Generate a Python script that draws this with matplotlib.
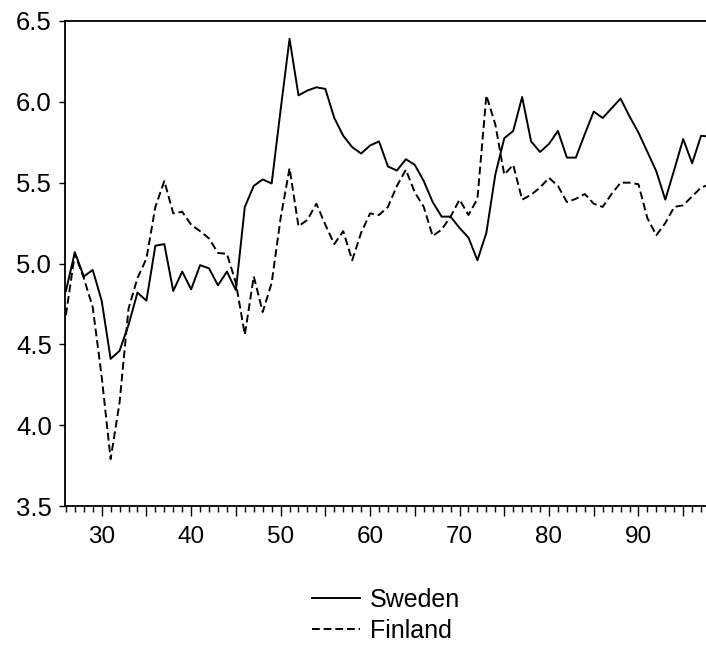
import numpy as np
import matplotlib
matplotlib.use('Agg')
import matplotlib.pyplot as plt
from matplotlib.ticker import MultipleLocator, FuncFormatter

# years 1926-1998 (shown as two-digit years)
years = list(range(26, 99))

sweden = [
    4.83, 5.07, 4.92, 4.96, 4.77, 4.41, 4.46, 4.62, 4.82, 4.77,
    5.11, 5.12, 4.83, 4.95, 4.84, 4.99, 4.97, 4.865, 4.95, 4.835,
    5.35, 5.48, 5.52, 5.495, 5.95, 6.39, 6.04, 6.07, 6.09, 6.08,
    5.90, 5.79, 5.72, 5.68, 5.73, 5.755, 5.60, 5.575, 5.645, 5.61,
    5.51, 5.38, 5.29, 5.29, 5.22, 5.16, 5.02, 5.19, 5.55, 5.775,
    5.82, 6.03, 5.755, 5.69, 5.74, 5.82, 5.655, 5.655, 5.80, 5.94,
    5.90, 5.96, 6.02, 5.91, 5.81, 5.69, 5.57, 5.395, 5.58, 5.77,
    5.62, 5.79, 5.785,
]

finland = [
    4.68, 5.06, 4.91, 4.73, 4.30, 3.79, 4.14, 4.72, 4.91, 5.03,
    5.35, 5.51, 5.31, 5.32, 5.24, 5.20, 5.155, 5.065, 5.06, 4.88,
    4.56, 4.92, 4.70, 4.88, 5.28, 5.59, 5.23, 5.27, 5.37, 5.24,
    5.12, 5.20, 5.02, 5.19, 5.31, 5.30, 5.35, 5.48, 5.58, 5.44,
    5.35, 5.17, 5.21, 5.29, 5.395, 5.30, 5.40, 6.04, 5.86, 5.55,
    5.61, 5.395, 5.425, 5.47, 5.53, 5.48, 5.38, 5.40, 5.43, 5.37,
    5.35, 5.43, 5.50, 5.50, 5.49, 5.28, 5.175, 5.25, 5.35, 5.36,
    5.415, 5.47, 5.49,
]

plt.rcParams['font.family'] = ['Liberation Sans', 'DejaVu Sans']

fig = plt.figure(figsize=(7.06, 6.46), dpi=100)
ax = fig.add_axes([65 / 706, 140 / 646, 641 / 706, 485 / 646])

ax.plot(years, sweden, color='black', linewidth=1.4, label='Sweden')
ax.plot(years, finland, color='black', linewidth=1.4, linestyle=(0, (4, 2)),
        label='Finland')

ax.set_xlim(25.9, 97.55)
ax.set_ylim(3.5, 6.5)

ax.xaxis.set_major_locator(MultipleLocator(5))
ax.xaxis.set_minor_locator(MultipleLocator(1))
ax.xaxis.set_major_formatter(
    FuncFormatter(lambda v, p: f'{int(round(v))}' if round(v) % 10 == 0 else ''))
ax.yaxis.set_major_locator(MultipleLocator(0.5))
ax.yaxis.set_major_formatter(FuncFormatter(lambda v, p: f'{v:.1f}'))

ax.tick_params(axis='x', which='major', direction='out', length=7.5,
               width=1.0, labelsize=17.5, pad=7)
ax.tick_params(axis='x', which='minor', direction='out', length=4, width=1.0)
ax.tick_params(axis='y', which='major', direction='out', length=4.5,
               width=1.0, labelsize=18.5, pad=5)

for side in ['left', 'bottom', 'top']:
    ax.spines[side].set_linewidth(1.3)
ax.spines['right'].set_visible(False)

handles, labels = ax.get_legend_handles_labels()
fig.legend(handles, labels, loc='upper left',
           bbox_to_anchor=(312 / 706, 1 - 588 / 646), frameon=False,
           fontsize=18, handlelength=1.9, handletextpad=0.4,
           labelspacing=0.27, borderpad=0, borderaxespad=0)

fig.savefig('out.png', dpi=100)
plt.close(fig)
